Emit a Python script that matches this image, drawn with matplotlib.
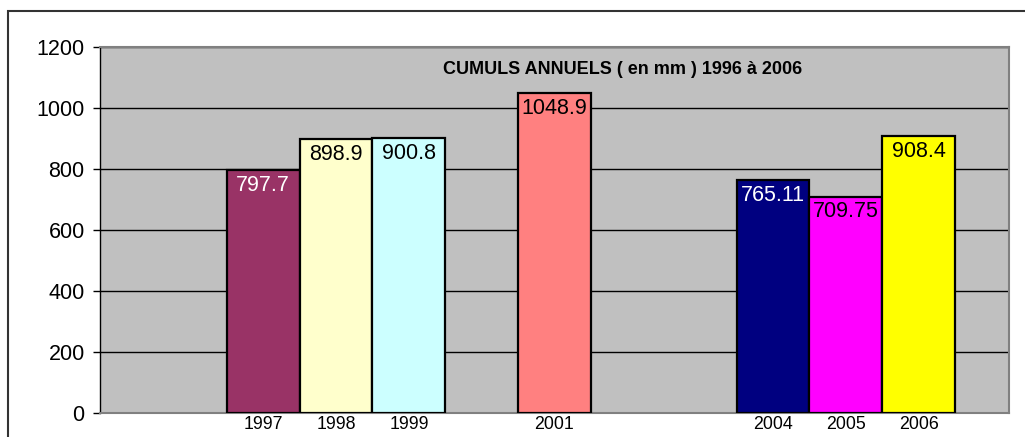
import matplotlib
import matplotlib.pyplot as plt
from matplotlib.patches import Rectangle

matplotlib.use("Agg")

plt.rcParams["font.family"] = ["Liberation Sans", "DejaVu Sans"]

# Data
title = "CUMULS ANNUELS ( en mm ) 1996 à 2006"
first_year = 1996
last_year = 2006
years = [1997, 1998, 1999, 2001, 2004, 2005, 2006]
totals = [797.7, 898.9, 900.8, 1048.9, 765.11, 709.75, 908.4]
value_labels = ["797.7", "898.9", "900.8", "1048.9", "765.11", "709.75", "908.4"]
bar_colors = ["#993366", "#FFFFCC", "#CCFFFF", "#FF8080", "#000080", "#FF00FF", "#FFFF00"]
label_colors = ["white", "black", "black", "black", "white", "black", "black"]
y_ticks = [0, 200, 400, 600, 800, 1000, 1200]

W, H = 1025, 437
fig = plt.figure(figsize=(W / 100, H / 100), dpi=100)

# outer chart border (cut off on the right and bottom)
fig.patches.append(
    Rectangle((8 / W, -0.1), 1.2, (H - 11) / H + 0.1, transform=fig.transFigure,
              fill=False, edgecolor="#333333", linewidth=1.5)
)

ax = fig.add_axes([100 / W, (H - 413) / H, 909 / W, 366 / H])
ax.set_facecolor("#C0C0C0")

x = [y - first_year for y in years]
ax.bar(x, totals, width=1.0, color=bar_colors, edgecolor="black",
       linewidth=1.6, zorder=3)

for xi, v, lab, c in zip(x, totals, value_labels, label_colors):
    ax.annotate(lab, (xi, v), xytext=(0, -3.5), textcoords="offset points",
                ha="center", va="top", fontsize=15.5, color=c, zorder=4)

pad = 0.743
ax.set_xlim(-0.5 - pad, (last_year - first_year) + 0.5 + pad)
ax.set_ylim(0, 1200)
ax.set_yticks(y_ticks)
ax.set_yticklabels([str(t) for t in y_ticks], fontsize=15.5)
ax.yaxis.grid(True, color="black", linewidth=1.0, zorder=1)
ax.set_axisbelow(True)
ax.tick_params(axis="y", length=5, width=1, direction="out", pad=6)

ax.set_xticks(x)
ax.set_xticklabels([str(y) for y in years], fontsize=12.8)
ax.tick_params(axis="x", length=0, pad=2)

for side in ["top", "right", "bottom"]:
    ax.spines[side].set_color("#808080")
    ax.spines[side].set_linewidth(1.5)
ax.spines["left"].set_color("black")
ax.spines["left"].set_linewidth(1.0)

ax.text((623 - 100) / 909, (413 - 69) / 366, title, transform=ax.transAxes,
        ha="center", va="center", fontsize=13, fontweight="bold", zorder=5)

plt.savefig("out.png", dpi=100)
plt.close()
